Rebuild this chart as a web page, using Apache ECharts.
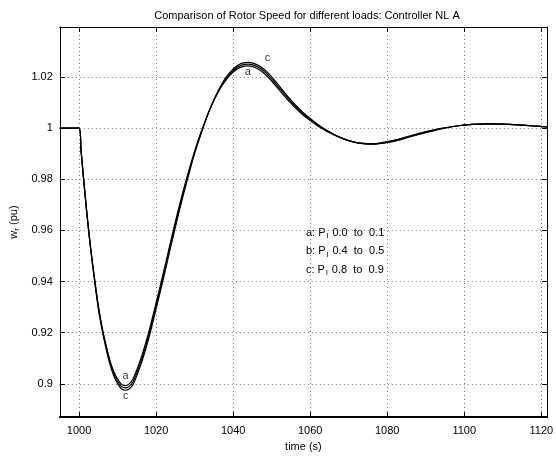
<!DOCTYPE html>
<html>
<head>
<meta charset="utf-8">
<script src="https://cdn.jsdelivr.net/npm/echarts@6/dist/echarts.min.js"></script>
<style>
  html, body { margin: 0; padding: 0; background: #fff; }
  #chart { width: 556px; height: 457px; }
</style>
</head>
<body>
<div id="chart"></div>
<script>
// time (s)
var time = [995, 1000, 1000.5, 1001, 1002, 1003, 1004, 1005, 1006, 1007, 1008, 1009, 1010, 1011, 1012, 1013, 1014,
  1016, 1018, 1020, 1022, 1024, 1026, 1028, 1030, 1032, 1034, 1036, 1038, 1040, 1042, 1044, 1046, 1048, 1050,
  1052, 1054, 1056, 1058, 1060, 1062, 1064, 1066, 1068, 1070, 1072, 1074, 1076, 1078, 1080, 1083, 1086, 1090,
  1094, 1098, 1102, 1106, 1110, 1114, 1118, 1121.5];

// a: Pl 0.0 to 0.1
var speedA = [1.0, 1.0, 0.9916, 0.9832, 0.9673, 0.9534, 0.9415, 0.9306, 0.9221, 0.9152, 0.9093, 0.9048, 0.9019, 0.8999, 0.8993, 0.9, 0.9019,
  0.9097, 0.9197, 0.9317, 0.9442, 0.9571, 0.9695, 0.9808, 0.9910, 0.9998, 1.0075, 1.0137, 1.0185, 1.0219, 1.0238, 1.0243, 1.0235, 1.0214, 1.0184,
  1.0148, 1.0113, 1.0081, 1.0053, 1.0029, 1.0008, 0.9990, 0.9975, 0.9961, 0.9951, 0.9943, 0.9940, 0.9939, 0.9941, 0.9947, 0.9957, 0.9970, 0.9986,
  0.9999, 1.0008, 1.0014, 1.0016, 1.0015, 1.0012, 1.0008, 1.0004];

// b: Pl 0.4 to 0.5
var speedB = [1.0, 1.0, 0.9915, 0.983, 0.967, 0.953, 0.941, 0.930, 0.9215, 0.9145, 0.9085, 0.904, 0.901, 0.899, 0.8984, 0.899, 0.9008,
  0.9085, 0.9185, 0.9305, 0.943, 0.956, 0.9685, 0.980, 0.9905, 0.9995, 1.0075, 1.014, 1.019, 1.0225, 1.0245, 1.025, 1.0242, 1.0222, 1.0192,
  1.0156, 1.0120, 1.0087, 1.0058, 1.0033, 1.0011, 0.9992, 0.9976, 0.9962, 0.9951, 0.9943, 0.9939, 0.9938, 0.9940, 0.9945, 0.9955, 0.9968, 0.9984,
  0.9998, 1.0008, 1.0014, 1.0016, 1.0015, 1.0012, 1.0008, 1.0004];

// c: Pl 0.8 to 0.9
var speedC = [1.0, 1.0, 0.9914, 0.9828, 0.9667, 0.9526, 0.9405, 0.9294, 0.9209, 0.9138, 0.9077, 0.9032, 0.9001, 0.8981, 0.8975, 0.898, 0.8997,
  0.9073, 0.9173, 0.9293, 0.9418, 0.9549, 0.9675, 0.9792, 0.9900, 0.9992, 1.0075, 1.0143, 1.0195, 1.0231, 1.0252, 1.0257, 1.0249, 1.0230, 1.0200,
  1.0164, 1.0127, 1.0093, 1.0063, 1.0037, 1.0014, 0.9994, 0.9977, 0.9963, 0.9951, 0.9943, 0.9938, 0.9937, 0.9939, 0.9943, 0.9953, 0.9966, 0.9982,
  0.9997, 1.0008, 1.0014, 1.0016, 1.0015, 1.0012, 1.0008, 1.0004];

var xTicks = [1000, 1020, 1040, 1060, 1080, 1100, 1120];
var yTicks = [0.9, 0.92, 0.94, 0.96, 0.98, 1, 1.02];

// curve tags [time, value, text]
var tags = [
  [1012.1, 0.9030, 'a'],
  [1012.1, 0.8953, 'c'],
  [1043.8, 1.0218, 'a'],
  [1048.9, 1.0272, 'c']
];

var legendLines = [
  ['a', '0.0', '0.1'],
  ['b', '0.4', '0.5'],
  ['c', '0.8', '0.9']
];

var font = 'Liberation Sans, Arial, Helvetica, sans-serif';

function pairs(ys) {
  return time.map(function (t, i) { return [t, ys[i]]; });
}

function curve(name, ys) {
  return {
    name: name,
    type: 'line',
    data: pairs(ys),
    symbol: 'none',
    smooth: 0.25,
    lineStyle: { color: '#000', width: 1.2 },
    z: 5
  };
}

var gridLine = { show: true, lineStyle: { color: '#777', type: [1, 3], width: 1 } };

var myChart = echarts.init(document.getElementById('chart'));

var option = {
  animation: false,
  title: {
    text: 'Comparison of Rotor Speed for different loads: Controller NL A',
    left: 302,
    textAlign: 'center',
    top: 5,
    textStyle: { fontFamily: font, fontSize: 11, fontWeight: 'normal', color: '#000' }
  },
  grid: { left: 47, top: 27, right: 6, bottom: 25 },
  xAxis: [
    {
      type: 'value',
      min: 995,
      max: 1121.5,
      name: 'time (s)',
      nameLocation: 'middle',
      nameGap: 22,
      nameTextStyle: { fontFamily: font, fontSize: 11, color: '#000' },
      axisLine: { lineStyle: { color: '#000', width: 2 } },
      axisTick: { inside: true, length: 5, customValues: xTicks, lineStyle: { color: '#000' } },
      axisLabel: {
        customValues: xTicks,
        formatter: function (v) { return String(v); },
        fontFamily: font, fontSize: 11, color: '#000', margin: 8
      },
      splitLine: gridLine
    },
    {
      type: 'value',
      position: 'top',
      min: 995,
      max: 1121.5,
      axisLine: { lineStyle: { color: '#000', width: 1 } },
      axisTick: { inside: true, length: 5, customValues: xTicks, lineStyle: { color: '#000' } },
      axisLabel: { show: false },
      splitLine: { show: false }
    }
  ],
  yAxis: [
    {
      type: 'value',
      min: 0.887,
      max: 1.0395,
      name: '{n|w}{s|r}{n| (pu)}',
      nameLocation: 'middle',
      nameGap: 32,
      nameRotate: 90,
      nameTextStyle: {
        fontFamily: font, fontSize: 11, color: '#000',
        rich: {
          n: { fontFamily: font, fontSize: 11, color: '#000' },
          s: { fontFamily: font, fontSize: 8, color: '#000', padding: [6, 0, 0, 0] }
        }
      },
      axisLine: { lineStyle: { color: '#000', width: 1 } },
      axisTick: { inside: true, length: 5, customValues: yTicks, lineStyle: { color: '#000' } },
      axisLabel: { customValues: yTicks, fontFamily: font, fontSize: 11, color: '#000', margin: 7 },
      splitLine: gridLine
    },
    {
      type: 'value',
      position: 'right',
      min: 0.887,
      max: 1.0395,
      axisLine: { show: true, lineStyle: { color: '#000', width: 1 } },
      axisTick: { inside: true, length: 5, customValues: yTicks, lineStyle: { color: '#000' } },
      axisLabel: { show: false },
      splitLine: { show: false }
    }
  ],
  series: [
    curve('a', speedA),
    curve('b', speedB),
    curve('c', speedC),
    {
      type: 'scatter',
      symbolSize: 0,
      data: tags.map(function (d) { return { value: [d[0], d[1]], name: d[2] }; }),
      label: {
        show: true,
        position: 'inside',
        formatter: '{b}',
        fontFamily: font,
        fontSize: 11,
        color: '#000'
      },
      z: 6
    }
  ],
  graphic: legendLines.map(function (l, i) {
    return {
      type: 'text',
      left: 306,
      top: 227 + i * 18.5,
      style: {
        text: '{n|' + l[0] + ': P}{s|l}{n| ' + l[1] + '  to  ' + l[2] + '}',
        rich: {
          n: { fontFamily: font, fontSize: 11, fill: '#000' },
          s: { fontFamily: font, fontSize: 8, fill: '#000', padding: [7, 1, 0, 1] }
        }
      }
    };
  })
};

myChart.setOption(option);
</script>
</body>
</html>
